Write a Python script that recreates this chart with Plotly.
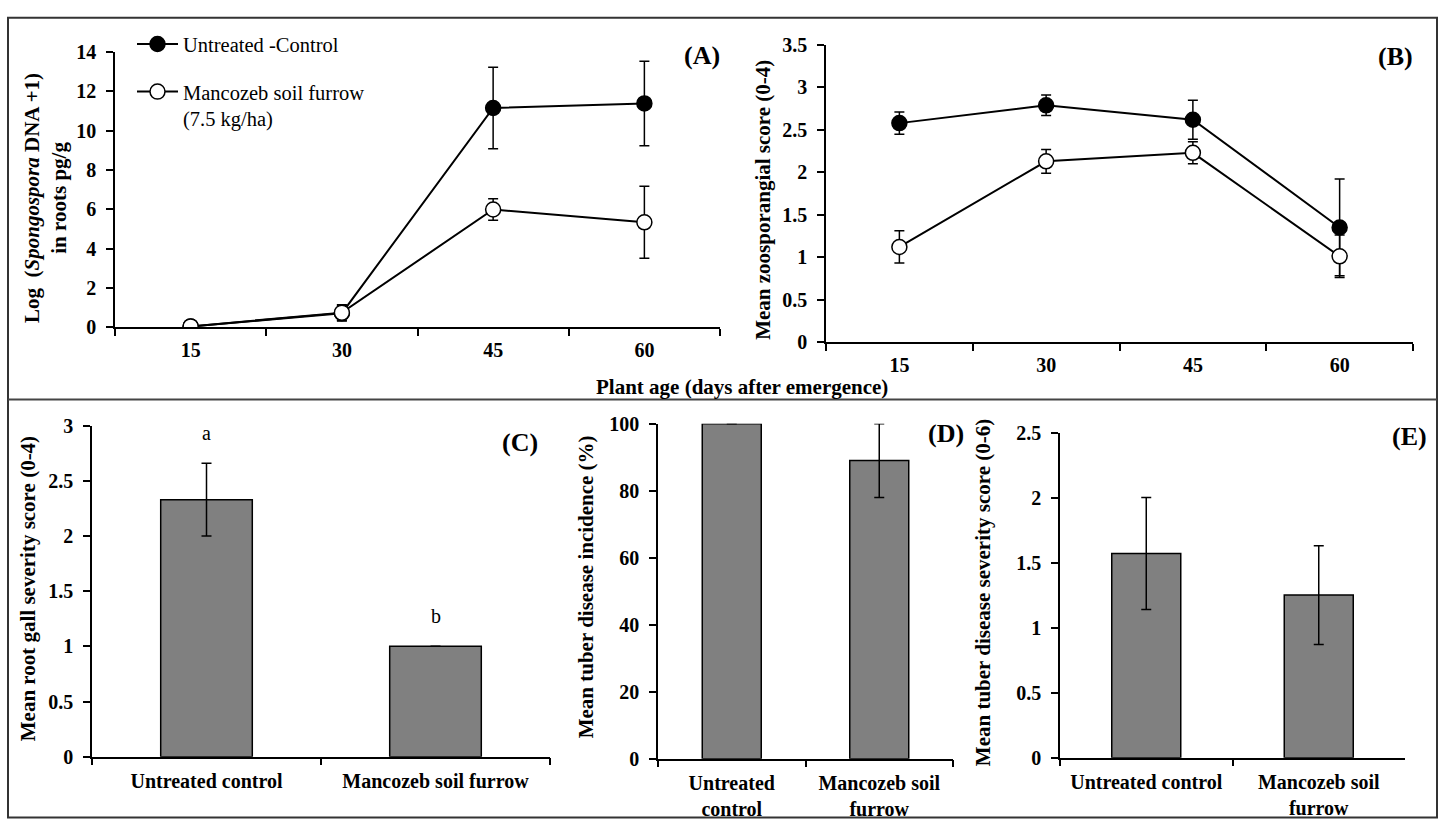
import plotly.graph_objects as go

# ---------------- data ----------------
days = ["15", "30", "45", "60"]
a_control = [0.05, 0.72, 11.15, 11.38]
a_control_err = [0.05, 0.40, 2.07, 2.15]
a_mancozeb = [0.05, 0.75, 5.99, 5.34]
a_mancozeb_err = [0.05, 0.40, 0.55, 1.83]

b_control = [2.58, 2.79, 2.62, 1.35]
b_control_err = [0.13, 0.12, 0.23, 0.57]
b_mancozeb = [1.12, 2.13, 2.23, 1.01]
b_mancozeb_err = [0.19, 0.14, 0.13, 0.25]

series_names = ["Untreated -Control", "Mancozeb soil furrow<br>(7.5 kg/ha)"]

treatments = ["Untreated control", "Mancozeb soil furrow"]
c_values = [2.33, 1.00]
c_err = [0.33, 0.0]
c_letters = ["a", "b"]
d_values = [100, 89]
d_err = [0, 11]
e_values = [1.57, 1.25]
e_err = [0.43, 0.38]

c_ticklabels = ["Untreated control", "Mancozeb soil furrow"]
d_ticklabels = ["Untreated<br>control", "Mancozeb soil<br>furrow"]
e_ticklabels = ["Untreated control", "Mancozeb soil<br>furrow"]

# ---------------- helpers ----------------
W, H = 1443, 830
FONT = "Liberation Serif"


def px(x):
    return x / W


def py(y):
    return 1 - y / H


fig = go.Figure()

# Panel A
for vals, errs, name, fill in [
    (a_control, a_control_err, series_names[0], "black"),
    (a_mancozeb, a_mancozeb_err, series_names[1], "white"),
]:
    fig.add_trace(go.Scatter(
        x=days, y=vals, name=name, mode="lines+markers",
        line=dict(color="black", width=2),
        marker=dict(size=15, color=fill, line=dict(color="black", width=1.5)),
        error_y=dict(type="data", array=errs, color="black", thickness=1.5, width=5),
        xaxis="x", yaxis="y", legendgroup=name, showlegend=True,
    ))

# Panel B
for vals, errs, name, fill in [
    (b_control, b_control_err, series_names[0], "black"),
    (b_mancozeb, b_mancozeb_err, series_names[1], "white"),
]:
    fig.add_trace(go.Scatter(
        x=days, y=vals, name=name, mode="lines+markers",
        line=dict(color="black", width=2),
        marker=dict(size=15, color=fill, line=dict(color="black", width=1.5)),
        error_y=dict(type="data", array=errs, color="black", thickness=1.5, width=5),
        xaxis="x2", yaxis="y2", legendgroup=name, showlegend=False,
    ))

# Panels C, D, E (bars)
for vals, errs, xa, ya in [
    (c_values, c_err, "x3", "y3"),
    (d_values, d_err, "x4", "y4"),
    (e_values, e_err, "x5", "y5"),
]:
    fig.add_trace(go.Bar(
        x=treatments, y=vals, width=0.4,
        marker=dict(color="#808080", line=dict(color="black", width=1.5)),
        error_y=dict(type="data", array=errs, color="black", thickness=1.5, width=5),
        xaxis=xa, yaxis=ya, showlegend=False,
    ))

tickfont = dict(family=FONT, size=20, color="black", weight="bold")


def xaxis_cfg(domain, anchor, ticktext=None, tickvals=None, lw=2, standoff=4):
    d = dict(domain=domain, anchor=anchor, type="category", range=[-0.5, 3.5],
             showline=True, linecolor="black", linewidth=lw, ticks="outside",
             tickson="boundaries", ticklen=7, tickwidth=1.5, tickcolor="black",
             showgrid=False, zeroline=False, tickfont=tickfont, fixedrange=True,
             ticklabelstandoff=standoff)
    if ticktext is not None:
        d.update(tickvals=tickvals, ticktext=ticktext, range=[-0.5, 1.5])
    return d


def yaxis_cfg(domain, anchor, rng, dtick):
    return dict(domain=domain, anchor=anchor, range=rng, dtick=dtick, tick0=0,
                showline=True, linecolor="black", linewidth=1.5, ticks="outside",
                ticklen=7, tickwidth=1.5, tickcolor="black", showgrid=False,
                zeroline=False, tickfont=tickfont, ticklabelstandoff=6,
                fixedrange=True)


fig.update_layout(
    width=W, height=H, margin=dict(l=0, r=0, t=0, b=0),
    paper_bgcolor="white", plot_bgcolor="white",
    font=dict(family=FONT, color="black"),
    xaxis=xaxis_cfg([px(115), px(720)], "y"),
    yaxis=yaxis_cfg([py(325), py(42)], "x", [0, 14], 2),
    xaxis2=xaxis_cfg([px(826), px(1413)], "y2"),
    yaxis2=yaxis_cfg([py(340), py(35)], "x2", [0, 3.5], 0.5),
    xaxis3=xaxis_cfg([px(92), px(550)], "y3", c_ticklabels, treatments, lw=1.5, standoff=6),
    yaxis3=yaxis_cfg([py(766), py(426)], "x3", [0, 3], 0.5),
    xaxis4=xaxis_cfg([px(658), px(953)], "y4", d_ticklabels, treatments, lw=1.5, standoff=6),
    yaxis4=yaxis_cfg([py(768), py(424)], "x4", [0, 100], 20),
    xaxis5=xaxis_cfg([px(1060), px(1405)], "y5", e_ticklabels, treatments, lw=1.5, standoff=6),
    yaxis5=yaxis_cfg([py(767), py(433)], "x5", [0, 2.5], 0.5),
    legend=dict(x=px(132), y=py(13.5), xanchor="left", yanchor="top",
                font=dict(family=FONT, size=20.5, color="black"),
                itemwidth=41, tracegroupgap=18, valign="top",
                bgcolor="rgba(0,0,0,0)"),
)

bold = dict(family=FONT, color="black", weight="bold")
annotations = [
    # panel letters
    dict(text="(A)", x=px(702), y=py(46), font=dict(bold, size=26)),
    dict(text="(B)", x=px(1395), y=py(47), font=dict(bold, size=26)),
    dict(text="(C)", x=px(520), y=py(443), font=dict(bold, size=26)),
    dict(text="(D)", x=px(946), y=py(434), font=dict(bold, size=26)),
    dict(text="(E)", x=px(1409), y=py(437), font=dict(bold, size=26)),
    # axis titles
    dict(text="Log\u00a0 (<i>Spongospora</i> DNA +1)<br>in roots pg/g",
         x=px(46), y=py(192), textangle=-90, font=dict(bold, size=21)),
    dict(text="Mean zoosporangial score (0-4)", x=px(763), y=py(194),
         textangle=-90, font=dict(bold, size=21)),
    dict(text="Plant age (days after emergence)", x=px(742), y=py(386),
         font=dict(bold, size=21)),
    dict(text="Mean root gall severity score (0-4)", x=px(28), y=py(594),
         textangle=-90, font=dict(bold, size=21)),
    dict(text="Mean tuber disease incidence (%)", x=px(586), y=py(592),
         textangle=-90, font=dict(bold, size=21)),
    dict(text="Mean tuber disease severity score (0-6)", x=px(983), y=py(598),
         textangle=-90, font=dict(bold, size=21)),
]
for a in annotations:
    a.update(xref="paper", yref="paper", showarrow=False,
             xanchor="center", yanchor="middle")

# significance letters on panel C
for t, v, e, lab in zip(treatments, c_values, c_err, c_letters):
    annotations.append(dict(text=lab, x=t, y=v + e, xref="x3", yref="y3",
                            showarrow=False, yanchor="middle", yshift=30,
                            font=dict(family=FONT, size=20, color="black")))

fig.update_layout(annotations=annotations)

# frame and divider
fig.add_shape(type="rect", xref="paper", yref="paper",
              x0=px(8), x1=px(1437), y0=py(828.5), y1=py(7),
              line=dict(color="#333333", width=2), layer="below")
fig.add_shape(type="line", xref="paper", yref="paper",
              x0=px(8), x1=px(1437), y0=py(399), y1=py(399),
              line=dict(color="#444444", width=2), layer="below")

fig.write_html("out.html", config={"displayModeBar": False},
               post_script="document.body.style.margin='0';")
